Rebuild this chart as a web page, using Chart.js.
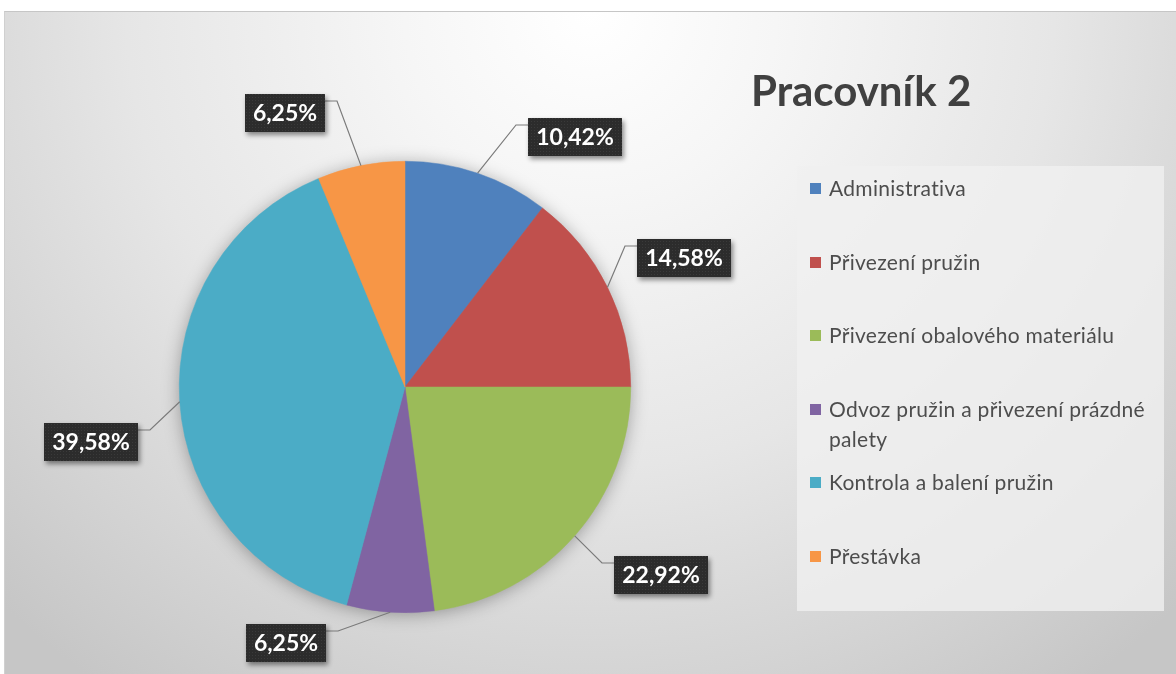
<!DOCTYPE html>
<html lang="cs">
<head>
<meta charset="utf-8">
<title>Pracovník 2</title>
<script src="https://cdn.jsdelivr.net/npm/chart.js@4/dist/chart.umd.min.js"></script>
<style>
    html, body { margin: 0; padding: 0; background: #fff; }
    body { width: 1176px; height: 674px; overflow: hidden; position: relative; font-family: Lato, "Open Sans", sans-serif; }
    #frame {
        position: absolute; left: 4px; top: 11px; width: 1172px; height: 663px;
        box-sizing: border-box; border-top: 1px solid #c6c6c6; border-left: 1px solid #d0d0d0;
        background: radial-gradient(ellipse 72% 125% at 50% 0%, #ffffff 0%, #f6f6f6 22%, #e6e6e6 55%, #d3d3d3 82%, #c6c6c6 100%);
    }
    #chart { position: absolute; left: 0; top: 0; }
    #title { position: absolute; left: 746px; top: 57px; font-size: 42px; line-height: 42px; font-weight: 700; color: #404040; white-space: nowrap; }
    #legend { position: absolute; left: 792px; top: 154px; width: 367px; height: 445px; background: rgba(240,240,240,0.8); }
    .item { position: absolute; left: 13px; display: flex; align-items: flex-start; }
    .mark { width: 11px; height: 11px; margin-top: 10px; margin-right: 8px; flex: none; }
    .txt { width: 332px; font-size: 21px; letter-spacing: 0.3px; line-height: 30px; color: #4d4d4d; }
</style>
</head>
<body>
<div id="frame">
    <canvas id="chart" width="1172" height="663"></canvas>
    <div id="title"></div>
    <div id="legend"></div>
</div>
<script>
/* ---------- data ---------- */
const chartTitle = "Pracovník 2";
const categories = [
    "Administrativa",
    "Přivezení pružin",
    "Přivezení obalového materiálu",
    "Odvoz pružin a přivezení prázdné palety",
    "Kontrola a balení pružin",
    "Přestávka"
];
const shares = [10.42, 14.58, 22.92, 6.25, 39.58, 6.25];
const sliceColors = ["#4f81bd", "#c0504d", "#9bbb59", "#8064a2", "#4bacc6", "#f79646"];

// how far each label box is pushed off its default spot (layout only)
const labelNudge = [[79, 17], [26, -4], [44, 2], [-100, -26], [-32, 37], [-65, 3]];

/* ---------- title + legend ---------- */
document.getElementById("title").textContent = chartTitle;

const legend = document.getElementById("legend");
categories.forEach((name, i) => {
    const row = document.createElement("div");
    row.className = "item";
    row.style.top = (22 + i * 73.6 - 15) + "px";
    row.innerHTML = `<span class="mark" style="background:${sliceColors[i]}"></span><span class="txt">${name}</span>`;
    legend.appendChild(row);
});

/* ---------- helpers ---------- */
function fmt(v) {
    return v.toFixed(2).replace(".", ",") + "%";
}

function boxPattern(ctx) {
    const c = document.createElement("canvas");
    c.width = 3; c.height = 3;
    const g = c.getContext("2d");
    g.fillStyle = "#2c2c2c";
    g.fillRect(0, 0, 3, 3);
    g.fillStyle = "#3a3a3a";
    g.fillRect(1, 1, 1, 1);
    return ctx.createPattern(c, "repeat");
}

/* ---------- plugins ---------- */
const pieShadow = {
    id: "pieShadow",
    beforeDatasetsDraw(chart) {
        const arc = chart.getDatasetMeta(0).data[0];
        if (!arc) return;
        const p = arc.getProps(["x", "y", "outerRadius"], true);
        const ctx = chart.ctx;
        ctx.save();
        ctx.shadowColor = "rgba(0,0,0,0.35)";
        ctx.shadowBlur = 18;
        ctx.shadowOffsetY = 2;
        ctx.fillStyle = "#9a9a9a";
        ctx.beginPath();
        ctx.arc(p.x, p.y, p.outerRadius - 1, 0, Math.PI * 2);
        ctx.fill();
        ctx.restore();
    }
};

const calloutLabels = {
    id: "calloutLabels",
    afterDatasetsDraw(chart) {
        const ctx = chart.ctx;
        const pattern = boxPattern(ctx);
        chart.getDatasetMeta(0).data.forEach((arc, i) => {
            const p = arc.getProps(["x", "y", "startAngle", "endAngle", "outerRadius"], true);
            const mid = (p.startAngle + p.endAngle) / 2;
            const ex = p.x + Math.cos(mid) * p.outerRadius;
            const ey = p.y + Math.sin(mid) * p.outerRadius;
            const cx = p.x + Math.cos(mid) * p.outerRadius * 1.25 + labelNudge[i][0];
            const cy = p.y + Math.sin(mid) * p.outerRadius * 1.25 + labelNudge[i][1];

            const text = fmt(shares[i]);
            ctx.font = "bold 23px Lato";
            const w = Math.round(ctx.measureText(text).width + 16);
            const h = 38;
            const bx = Math.round(cx - w / 2), by = Math.round(cy - h / 2);

            // leader line
            const toRight = cx > ex;
            const ax = toRight ? bx : bx + w;
            const ay = by + 7;
            const kx = toRight ? ax - 12 : ax + 12;
            ctx.save();
            ctx.strokeStyle = "#7a7a7a";
            ctx.lineWidth = 1.2;
            ctx.beginPath();
            ctx.moveTo(ex, ey);
            ctx.lineTo(kx, ay);
            ctx.lineTo(ax, ay);
            ctx.stroke();
            ctx.restore();

            // box
            ctx.save();
            ctx.shadowColor = "rgba(0,0,0,0.45)";
            ctx.shadowBlur = 5;
            ctx.shadowOffsetX = 2;
            ctx.shadowOffsetY = 3;
            ctx.fillStyle = pattern;
            ctx.fillRect(bx, by, w, h);
            ctx.restore();

            ctx.save();
            ctx.fillStyle = "#ffffff";
            ctx.textAlign = "center";
            ctx.textBaseline = "middle";
            ctx.fillText(text, bx + w / 2, by + h / 2 + 1);
            ctx.restore();
        });
    }
};

/* ---------- chart ---------- */
new Chart(document.getElementById("chart"), {
    type: "pie",
    data: {
        labels: categories,
        datasets: [{
            data: shares,
            backgroundColor: sliceColors,
            borderColor: sliceColors,
            borderWidth: 0.5
        }]
    },
    options: {
        responsive: false,
        animation: false,
        layout: { padding: { left: 174, top: 149, right: 546, bottom: 62 } },
        plugins: {
            legend: { display: false },
            tooltip: { enabled: false },
            title: { display: false }
        }
    },
    plugins: [pieShadow, calloutLabels]
});
</script>
</body>
</html>
